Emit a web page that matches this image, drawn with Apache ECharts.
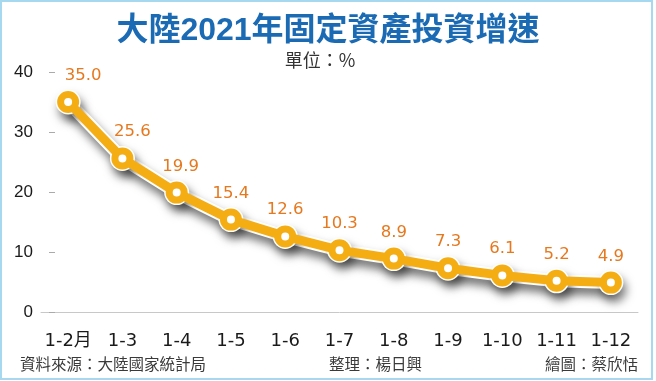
<!DOCTYPE html>
<html><head><meta charset="utf-8">
<script src="https://cdn.jsdelivr.net/npm/echarts@6/dist/echarts.min.js"></script>
<style>html,body{margin:0;padding:0;background:#fff}#c{width:656px;height:381px}</style>
</head><body><div id="c"></div>
<script>
const categories = ['1-2月','1-3','1-4','1-5','1-6','1-7','1-8','1-9','1-10','1-11','1-12'];
const growth = [35.0, 25.6, 19.9, 15.4, 12.6, 10.3, 8.9, 7.3, 6.1, 5.2, 4.9];
const yTicks = {min: 0, max: 40, interval: 10};
const titleText = '大陸2021年固定資產投資增速';
const unitText = '單位：%';
const sourceText = '資料來源：大陸國家統計局';
const editorText = '整理：楊日興';
const artistText = '繪圖：蔡欣恬';

// label horizontal nudges (style only)
const labelDx = [15, 10, 4, 0, 0, 0, 0, 0, 0, 0, 0];

const orange = '#F4AE14';
const labelOrange = '#E6781E';
const cjk = '"Noto Sans CJK TC","Noto Sans CJK SC",sans-serif';
const num = '"DejaVu Sans","Noto Sans CJK TC",sans-serif';

const chart = echarts.init(document.getElementById('c'));
chart.setOption({
  backgroundColor: '#fff',
  animation: false,
  title: {
    text: titleText, left: 'center', top: 10,
    textStyle: {fontFamily: '"Liberation Sans","Noto Sans CJK TC",sans-serif', fontSize: 32, fontWeight: 'bold', color: '#1b6ab4'}
  },
  graphic: [
    {type: 'rect', shape: {x: 1, y: 1, width: 651, height: 378}, style: {fill: 'none', stroke: '#a6d8ef', lineWidth: 2}, silent: true},
    {type: 'text', x: 320, y: 60, style: {text: unitText, fontFamily: cjk, fontSize: 18, fill: '#333', textAlign: 'center', textVerticalAlign: 'middle'}},
    {type: 'text', x: 20, y: 364, style: {text: sourceText, fontFamily: cjk, fontSize: 15.5, fill: '#3a3a3a', textAlign: 'left', textVerticalAlign: 'middle'}},
    {type: 'text', x: 329, y: 364, style: {text: editorText, fontFamily: cjk, fontSize: 15.5, fill: '#3a3a3a', textAlign: 'left', textVerticalAlign: 'middle'}},
    {type: 'text', x: 638, y: 364, style: {text: artistText, fontFamily: cjk, fontSize: 15.5, fill: '#3a3a3a', textAlign: 'right', textVerticalAlign: 'middle'}}
  ],
  grid: {left: 41, right: 18, top: 72, bottom: 69},
  xAxis: {
    type: 'category', data: categories, boundaryGap: true,
    axisLine: {lineStyle: {color: '#c8c8c8', width: 1}},
    axisTick: {alignWithLabel: true, length: 7, interval: 0, lineStyle: {color: '#bdbdbd'}},
    axisLabel: {interval: 0, fontFamily: num, fontSize: 18, color: '#1a1a1a', margin: 20}
  },
  yAxis: {
    type: 'value', min: yTicks.min, max: yTicks.max, interval: yTicks.interval,
    offset: -14,
    splitLine: {show: false},
    axisLine: {show: false},
    axisTick: {show: true, length: 6, lineStyle: {color: '#aaa'}},
    axisLabel: {fontFamily: '"Liberation Sans",sans-serif', fontSize: 17, color: '#1a1a1a', margin: 22}
  },
  series: [
    {
      type: 'line', data: growth, silent: true,
      symbol: 'circle', symbolSize: 25,
      lineStyle: {color: '#fff', width: 13, shadowColor: 'rgba(0,0,0,0.55)', shadowBlur: 10, shadowOffsetX: 3, shadowOffsetY: 7},
      itemStyle: {color: '#fff', shadowColor: 'rgba(0,0,0,0.5)', shadowBlur: 10, shadowOffsetX: 3, shadowOffsetY: 7},
      z: 2
    },
    {
      type: 'line',
      data: growth.map((v, i) => ({value: v, label: {offset: [labelDx[i], 0]}})),
      symbol: 'circle', symbolSize: 15,
      lineStyle: {color: orange, width: 9},
      itemStyle: {color: '#fff', borderColor: orange, borderWidth: 7},
      label: {show: true, position: 'top', distance: 7, fontFamily: num, fontSize: 16.5, color: labelOrange,
        formatter: p => p.value.toFixed(1)},
      z: 3
    }
  ]
});
</script></body></html>
